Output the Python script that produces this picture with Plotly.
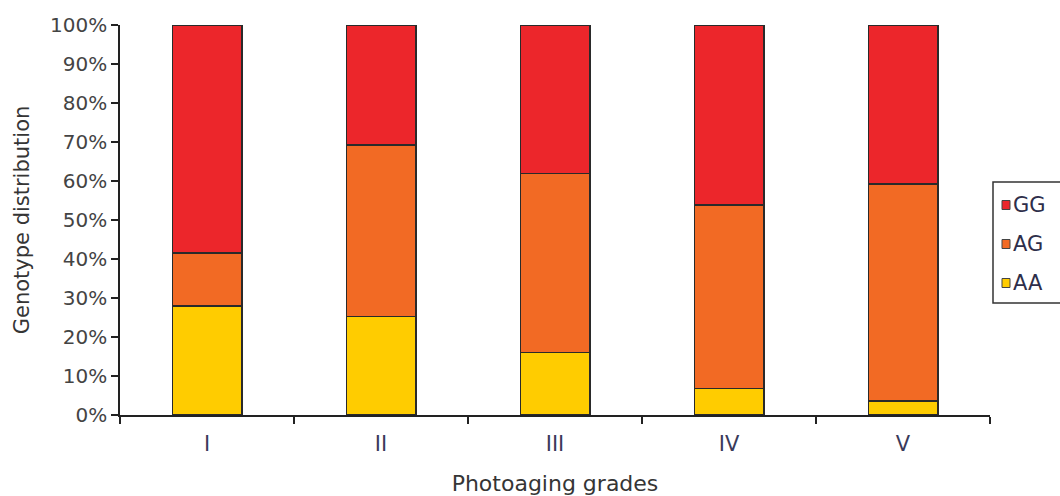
import plotly.graph_objects as go

# Genotype distribution (%) by photoaging grade
grades = ["I", "II", "III", "IV", "V"]
aa = [28.0, 25.2, 16.1, 6.8, 3.6]
ag = [13.5, 44.0, 45.8, 47.0, 55.6]
gg = [58.5, 30.8, 38.1, 46.2, 40.8]
y_ticks = [0, 10, 20, 30, 40, 50, 60, 70, 80, 90, 100]

series = [("AA", aa, "#FFCC00"), ("AG", ag, "#F26A24"), ("GG", gg, "#EC262B")]

W, H = 1060, 496
M = dict(l=120, r=70, t=25, b=81)
font = "DejaVu Sans, Liberation Sans, Arial, sans-serif"
text_col = "#353535"

fig = go.Figure()
for name, vals, color in series:
    fig.add_trace(go.Bar(
        x=grades, y=vals, name=name,
        marker=dict(color=color, line=dict(color="#2a2a2a", width=1.4)),
        width=0.40, showlegend=False,
    ))


def px_to_paper(xp, yp):
    pw = W - M["l"] - M["r"]
    ph = H - M["t"] - M["b"]
    return (xp - M["l"]) / pw, (H - M["b"] - yp) / ph


# Legend box (runs off the right edge of the page), GG on top
shapes, annotations = [], []
bx0, by0 = px_to_paper(993, 182)
bx1, by1 = px_to_paper(1075, 303)
shapes.append(dict(type="rect", xref="paper", yref="paper", x0=bx0, x1=bx1, y0=by1, y1=by0,
                   line=dict(color="#333333", width=1.5), fillcolor="rgba(0,0,0,0)"))
for i, (name, _, color) in enumerate(reversed(series)):
    cy = 205 + i * 39
    sx0, sy0 = px_to_paper(1002, cy - 4.5)
    sx1, sy1 = px_to_paper(1010, cy + 4.5)
    shapes.append(dict(type="rect", xref="paper", yref="paper", x0=sx0, x1=sx1, y0=sy1, y1=sy0,
                       line=dict(color="#444444", width=1), fillcolor=color))
    tx, ty = px_to_paper(1011, cy)
    annotations.append(dict(xref="paper", yref="paper", x=tx, y=ty, xanchor="left", yanchor="middle",
                            text=name, showarrow=False,
                            font=dict(family=font, size=21, color="#2e2e4a")))

fig.update_layout(
    barmode="stack",
    width=W, height=H,
    margin=dict(**M, autoexpand=False),
    paper_bgcolor="white", plot_bgcolor="white",
    font=dict(family=font, size=20, color=text_col),
    shapes=shapes, annotations=annotations,
    xaxis=dict(
        type="category", range=[-0.5, 4.5],
        showline=True, linecolor="#222222", linewidth=1.5,
        ticks="outside", tickson="boundaries", ticklen=7, tickcolor="#222222", tickwidth=1.5,
        ticklabelstandoff=9,
        showgrid=False, tickfont=dict(size=21, color="#3a3a5a"),
        title=dict(text="Photoaging grades", font=dict(size=22, color=text_col), standoff=22),
    ),
    yaxis=dict(
        range=[0, 100], tickvals=y_ticks,
        ticktext=[f"{v}%" for v in y_ticks],
        showline=True, linecolor="#222222", linewidth=1.5,
        ticks="outside", ticklen=7, tickcolor="#222222", tickwidth=1.5,
        showgrid=False, zeroline=False, tickfont=dict(size=20, color="#444444"),
        title=dict(text="Genotype distribution", font=dict(size=21, color=text_col), standoff=15),
    ),
)

fig.write_html("out.html")
